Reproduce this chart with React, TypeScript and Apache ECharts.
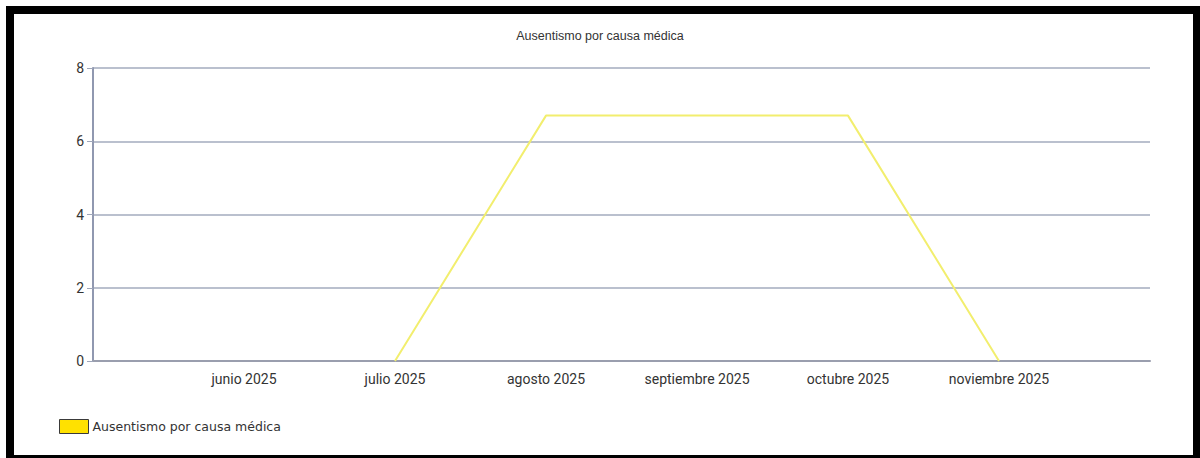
import React, { useEffect, useRef } from "react";
import * as echarts from "echarts";

const titleText = "Ausentismo por causa médica";
const seriesName = "Ausentismo por causa médica";
const categories = ["", "junio 2025", "julio 2025", "agosto 2025", "septiembre 2025", "octubre 2025", "noviembre 2025", ""];
const values: (number | null)[] = [null, null, 0, 6.7, 6.7, 6.7, 0, null];
const yMin = 0;
const yMax = 8;
const yInterval = 2;

export default function App() {
  const ref = useRef<HTMLDivElement>(null);
  useEffect(() => {
    if (!ref.current) return;
    const chart = echarts.init(ref.current, undefined, { renderer: "svg" });
    chart.setOption({
      animation: false,
      backgroundColor: "#ffffff",
      title: {
        text: titleText,
        left: "center",
        top: 24,
        textStyle: {
          fontFamily: "Liberation Sans, Arial, sans-serif",
          fontSize: 12.5,
          fontWeight: "normal",
          color: "#333333",
        },
      },
      grid: { left: 93, right: 50, top: 68, bottom: 97, containLabel: false },
      legend: {
        left: 59,
        top: 419,
        padding: 0,
        itemWidth: 29,
        itemHeight: 14,
        icon: "rect",
        data: [
          {
            name: seriesName,
            icon: "rect",
            itemStyle: { color: "#ffe100", borderColor: "#3a3a3a", borderWidth: 1 },
          },
        ],
        textStyle: {
          fontFamily: "DejaVu Sans, Verdana, sans-serif",
          fontSize: 12.5,
          color: "#333333",
          padding: [0, 0, 0, -1],
        },
      },
      xAxis: {
        type: "category",
        data: categories,
        boundaryGap: false,
        axisLine: { show: true, lineStyle: { color: "#9a9eae", width: 2 } },
        axisTick: { show: false },
        axisLabel: {
          interval: 0,
          margin: 11,
          fontFamily: "Roboto, Arial, sans-serif",
          fontSize: 14,
          color: "#333333",
        },
        splitLine: { show: false },
      },
      yAxis: {
        type: "value",
        min: yMin,
        max: yMax,
        interval: yInterval,
        axisLine: { show: true, lineStyle: { color: "#9098b0", width: 2 } },
        axisTick: { show: true, length: 6, lineStyle: { color: "#9ea6ba", width: 1 } },
        axisLabel: {
          margin: 9,
          fontFamily: "Roboto, Arial, sans-serif",
          fontSize: 14,
          color: "#333333",
        },
        splitLine: { show: true, lineStyle: { color: "#a3abbe", width: 1.5 } },
      },
      series: [
        {
          name: seriesName,
          type: "line",
          data: values,
          showSymbol: false,
          symbol: "none",
          connectNulls: false,
          lineStyle: { color: "#f2ee6e", width: 2 },
          itemStyle: { color: "#ffe100" },
        },
      ],
      graphic: [
        {
          type: "rect",
          shape: { x: 10, y: 10, width: 1187, height: 449 },
          style: { fill: "none", stroke: "#000000", lineWidth: 8 },
          silent: true,
          z: 100,
        },
      ],
    });
    return () => chart.dispose();
  }, []);
  return (
    <div
      ref={ref}
      style={{ position: "absolute", left: 0, top: 0, width: 1200, height: 458 }}
    />
  );
}
